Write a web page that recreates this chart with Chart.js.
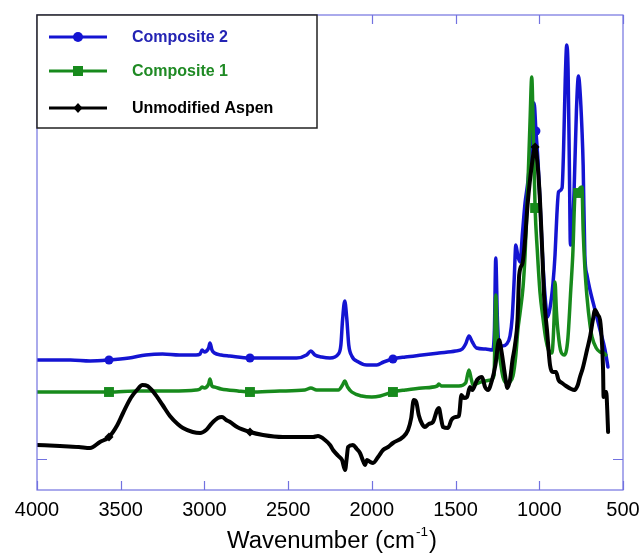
<!DOCTYPE html>
<html><head><meta charset="utf-8">
<script src="https://cdn.jsdelivr.net/npm/chart.js@4/dist/chart.umd.min.js"></script>
<style>html,body{margin:0;padding:0;background:#fff;}</style>
</head><body>
<canvas id="c" width="639" height="556"></canvas>
<script>
// ---------- DATA ----------
const seriesLabels = ["Composite 2", "Composite 1", "Unmodified Aspen"];
const xTicks = [4000, 3500, 3000, 2500, 2000, 1500, 1000, 500];
const yTicks = [0];
const xTitle = ["Wavenumber (cm", "-1", ")"];

const comp2Wn  = [4000,3800,3683,3570,3450,3350,3250,3150,3050,3026,3014,3000,2975,2967,2955,2940,2900,2850,2728,2600,2450,2390,2364,2340,2300,2250,2200,2185,2175,2162,2150,2138,2120,2080,2030,1970,1930,1874,1800,1700,1600,1500,1460,1440,1420,1400,1375,1320,1280,1268,1260,1250,1238,1220,1195,1175,1162,1150,1140,1128,1115,1100,1085,1067,1055,1040,1031,1020,1008,996,984,966,950,936,918,906,895,885,864,855,845,836,828,820,814,806,792,778,766,757,745,738,728,715,697,667,637,607,590];
const comp2Abs = [0.99,0.99,0.98,0.99,1.01,1.04,1.05,1.04,1.04,1.05,1.09,1.07,1.11,1.16,1.09,1.06,1.04,1.03,1.01,1.01,1.01,1.04,1.08,1.04,1.02,1.01,1.05,1.14,1.39,1.58,1.41,1.14,1.03,0.97,0.94,0.94,0.97,1.00,1.02,1.04,1.06,1.08,1.10,1.15,1.23,1.17,1.11,1.10,1.09,1.29,2.01,1.39,1.13,1.13,1.15,1.23,1.41,1.79,2.14,2.03,1.97,2.27,2.56,2.79,3.04,3.47,3.56,3.28,2.99,2.59,2.14,1.64,1.42,1.51,1.76,2.04,2.44,2.67,2.71,3.09,3.79,4.14,3.89,2.89,2.14,2.19,2.69,3.49,3.83,3.69,3.29,2.94,2.04,1.84,1.69,1.49,1.29,1.09,0.92];
const comp2Markers = [3570, 2728, 1874, 1020];

const comp1Wn  = [4000,3800,3570,3400,3200,3050,3026,3014,3000,2975,2967,2955,2940,2900,2800,2728,2550,2400,2364,2330,2200,2175,2162,2145,2120,2060,2000,1950,1874,1800,1700,1610,1600,1585,1480,1440,1420,1405,1396,1350,1290,1270,1260,1250,1234,1217,1195,1175,1157,1140,1128,1115,1097,1085,1067,1055,1045,1036,1025,1012,996,978,960,945,925,912,906,898,888,870,850,830,812,800,786,768,757,745,738,727,715,697,685,660,637,615,603];
const comp1Abs = [0.67,0.67,0.67,0.68,0.68,0.69,0.70,0.72,0.71,0.75,0.80,0.73,0.72,0.70,0.68,0.67,0.68,0.69,0.71,0.69,0.69,0.74,0.78,0.72,0.67,0.63,0.62,0.63,0.67,0.69,0.71,0.73,0.75,0.73,0.73,0.76,0.89,0.79,0.74,0.77,0.79,0.84,1.64,1.19,0.99,0.82,0.76,0.77,0.83,1.04,1.29,1.46,1.72,2.04,2.79,3.39,3.82,3.29,2.51,2.09,1.67,1.41,1.19,1.09,1.06,1.39,1.77,1.49,1.27,1.07,1.04,1.19,1.69,2.04,2.64,2.66,2.71,2.72,2.29,1.89,1.62,1.34,1.22,1.11,1.07,1.06,1.04];
const comp1Markers = [3570, 2728, 1874, 1025, 768];

const aspenWn  = [4000,3863,3750,3683,3624,3570,3520,3486,3440,3403,3370,3340,3300,3250,3206,3160,3128,3070,3026,2990,2960,2920,2895,2870,2847,2805,2728,2650,2531,2400,2351,2322,2280,2250,2232,2200,2178,2160,2150,2142,2113,2090,2071,2050,2041,2029,2010,1993,1963,1933,1903,1874,1814,1784,1765,1750,1735,1720,1700,1683,1660,1635,1610,1600,1585,1575,1545,1525,1500,1480,1465,1450,1432,1414,1400,1372,1342,1324,1306,1282,1262,1240,1225,1205,1190,1175,1160,1145,1130,1120,1100,1085,1070,1043,1025,1010,996,984,970,954,936,918,900,885,864,840,810,790,770,757,740,715,697,680,667,650,637,625,619,616,608,600,594,589];
const aspenAbs = [0.14,0.13,0.12,0.11,0.17,0.22,0.34,0.46,0.61,0.69,0.74,0.73,0.66,0.54,0.43,0.35,0.31,0.27,0.26,0.29,0.35,0.41,0.42,0.39,0.37,0.32,0.27,0.24,0.22,0.22,0.22,0.23,0.19,0.14,0.09,0.03,-0.01,-0.11,0.01,0.12,0.14,0.10,0.06,-0.03,-0.06,-0.01,-0.03,-0.04,0.02,0.09,0.12,0.16,0.22,0.29,0.41,0.59,0.57,0.44,0.35,0.32,0.35,0.37,0.49,0.51,0.39,0.32,0.31,0.39,0.42,0.43,0.64,0.61,0.62,0.72,0.69,0.79,0.82,0.72,0.69,0.79,0.94,1.19,1.07,0.84,0.71,0.79,0.99,1.14,1.39,1.84,1.96,2.19,2.54,2.96,3.12,2.94,2.59,2.14,1.59,1.29,0.94,0.87,0.87,0.79,0.76,0.73,0.70,0.69,0.74,0.82,0.91,1.09,1.22,1.39,1.49,1.44,1.39,1.14,0.89,0.62,0.67,0.67,0.49,0.27];
const aspenMarkers = [3570, 2728, 1025];

// ---------- STYLE ----------
const colors = ["#1414d2", "#178a1c", "#000000"];
const textColors = ["#2424b4", "#1f8a24", "#000000"];
const frameColor = "#7272e0";
const Y_MIN = -0.31, Y_MAX = 4.44;

function pts(wn, ab){ return wn.map((w,i)=>({x:w, y:ab[i]})); }
function markerRadius(markers, r){
  return ctx => (ctx.raw && markers.includes(ctx.raw.x)) ? r : 0;
}

const datasets = [
  {label: seriesLabels[0], data: pts(comp2Wn, comp2Abs), borderColor: colors[0], backgroundColor: colors[0],
   borderWidth: 3.5, pointStyle: 'circle', pointRadius: markerRadius(comp2Markers, 4.5), order: 2},
  {label: seriesLabels[1], data: pts(comp1Wn, comp1Abs), borderColor: colors[1], backgroundColor: colors[1],
   borderWidth: 3.5, pointStyle: 'rect', pointRadius: markerRadius(comp1Markers, 7), order: 1},
  {label: seriesLabels[2], data: pts(aspenWn, aspenAbs), borderColor: colors[2], backgroundColor: colors[2],
   borderWidth: 4, pointStyle: 'rectRot', pointRadius: markerRadius(aspenMarkers, 4.5), order: 0}
];
datasets.forEach(d => { d.pointBorderWidth = 0; d.pointHoverRadius = 0; d.cubicInterpolationMode = 'monotone'; d.fill = false; });

const decor = {
  id: 'decor',
  afterDraw(chart){
    const ctx = chart.ctx, a = chart.chartArea, xs = chart.scales.x, ys = chart.scales.y;
    ctx.save();
    // frame
    ctx.strokeStyle = frameColor; ctx.lineWidth = 1.2;
    ctx.strokeRect(a.left, a.top, a.right - a.left, a.bottom - a.top);
    // inward ticks
    ctx.beginPath();
    xTicks.forEach(v => {
      const px = Math.round(xs.getPixelForValue(v)) + 0.5;
      ctx.moveTo(px, a.bottom); ctx.lineTo(px, a.bottom - 9);
      ctx.moveTo(px, a.top); ctx.lineTo(px, a.top + 9);
    });
    yTicks.forEach(v => {
      const py = Math.round(ys.getPixelForValue(v)) + 0.5;
      ctx.moveTo(a.left, py); ctx.lineTo(a.left + 10, py);
      ctx.moveTo(a.right, py); ctx.lineTo(a.right - 10, py);
    });
    ctx.stroke();

    // legend box
    const lx = a.left, ly = a.top, lw = 280, lh = 113;
    ctx.fillStyle = '#fff'; ctx.fillRect(lx, ly, lw, lh);
    ctx.strokeStyle = '#222'; ctx.lineWidth = 1.5; ctx.strokeRect(lx, ly, lw, lh);
    const rows = [22, 56, 93];
    chart.data.datasets.forEach((d, i) => {
      const y = ly + rows[i];
      ctx.strokeStyle = colors[i]; ctx.lineWidth = 3;
      ctx.beginPath(); ctx.moveTo(lx + 12, y); ctx.lineTo(lx + 70, y); ctx.stroke();
      ctx.fillStyle = colors[i];
      const mx = lx + 41;
      ctx.beginPath();
      if (i === 0) { ctx.arc(mx, y, 5, 0, Math.PI * 2); }
      else if (i === 1) { ctx.rect(mx - 5, y - 5, 10, 10); }
      else { ctx.moveTo(mx, y - 5); ctx.lineTo(mx + 4.5, y); ctx.lineTo(mx, y + 5); ctx.lineTo(mx - 4.5, y); ctx.closePath(); }
      ctx.fill();
      ctx.fillStyle = textColors[i];
      ctx.font = 'bold 16px "Liberation Sans", Arial, sans-serif';
      ctx.textBaseline = 'middle'; ctx.textAlign = 'left';
      ctx.fillText(d.label, lx + 95, y + 1);
    });

    // x-axis title with superscript (slightly wide, as in the reference)
    ctx.fillStyle = '#000';
    ctx.textBaseline = 'alphabetic'; ctx.textAlign = 'left';
    const big = '23px "Liberation Sans", Arial, sans-serif', small = '13px "Liberation Sans", Arial, sans-serif';
    const sx = 1.04;
    ctx.font = big; const w1 = ctx.measureText(xTitle[0]).width, w3 = ctx.measureText(xTitle[2]).width;
    ctx.font = small; const w2 = ctx.measureText(xTitle[1]).width;
    const total = (w1 + w2 + w3 + 2) * sx;
    const cx = (a.left + a.right) / 2 + 2;
    ctx.translate(cx - total / 2, 548);
    ctx.scale(sx, 1);
    let tx = 0;
    ctx.font = big; ctx.fillText(xTitle[0], tx, 0); tx += w1 + 1;
    ctx.font = small; ctx.fillText(xTitle[1], tx, -12); tx += w2 + 1;
    ctx.font = big; ctx.fillText(xTitle[2], tx, 0);
    ctx.restore();
  }
};

new Chart(document.getElementById('c'), {
  type: 'line',
  data: { datasets },
  options: {
    responsive: false, animation: false, devicePixelRatio: 1,
    layout: { autoPadding: false, padding: { left: 37, right: 16, top: 15, bottom: 0 } },
    plugins: { legend: { display: false }, tooltip: { enabled: false } },
    elements: { line: { borderJoinStyle: 'round', borderCapStyle: 'round' } },
    scales: {
      x: {
        type: 'linear', reverse: true, min: 500, max: 4000,
        afterBuildTicks: s => { s.ticks = xTicks.map(v => ({ value: v })); },
        afterFit: s => { s.height = 66; s.paddingLeft = 0; s.paddingRight = 0; },
        grid: { display: false, drawTicks: false }, border: { display: false },
        ticks: { color: '#000', font: { size: 20, family: '"Liberation Sans", Arial, sans-serif' }, padding: 8, maxRotation: 0, autoSkip: false,
                 callback: v => String(v) }
      },
      y: { display: false, min: Y_MIN, max: Y_MAX }
    }
  },
  plugins: [decor]
});
</script>
</body></html>
